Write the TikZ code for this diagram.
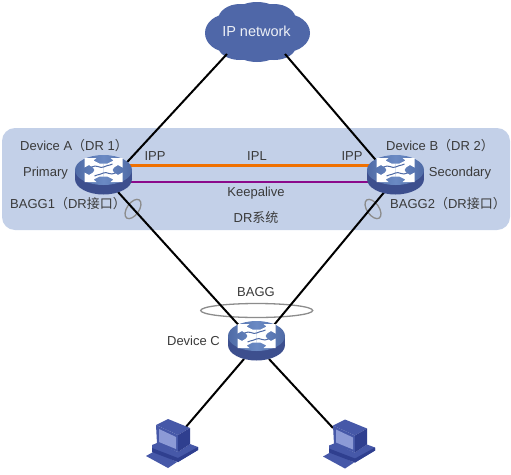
\documentclass[tikz,border=0pt]{standalone}
\usepackage{fontspec}
\setmainfont{Liberation Sans}
\newfontfamily\cjk{Noto Sans CJK SC}
\definecolor{panelc}{HTML}{C3D0E8}
\definecolor{cloudc}{HTML}{4F67A8}
\definecolor{swtop}{HTML}{6A8AC4}
\definecolor{swedge}{HTML}{4F6BA6}
\definecolor{swside}{HTML}{3D4F8E}
\definecolor{txt}{HTML}{3A3A3A}
\definecolor{orangel}{HTML}{F07000}
\definecolor{purplel}{HTML}{8B0A8B}
\definecolor{pcdark}{HTML}{2F3F8F}
\definecolor{pcmid}{HTML}{4658A8}
\definecolor{pclight}{HTML}{8C9AD6}
\tikzset{
 x=1pt,y=-1pt,
 lab/.style={font=\fontsize{13}{15}\selectfont,text=txt,inner sep=0pt},
 anchorbox/.style={inner sep=0pt,outer sep=0pt,minimum width=#1},
 wire/.style={line width=2pt,black},
 loopring/.style={draw=black!45,line width=1.3pt},
 switchicon/.pic={
  \fill[swside] (-28.5,0) rectangle (28.5,9);
  \fill[swside] (0,9) ellipse [x radius=28.5,y radius=15.5];
  \shade[left color=swedge,right color=swedge,middle color=swtop] (0,0) ellipse [x radius=28.5,y radius=15];
  \foreach \sx/\sy in {1/1,-1/1,1/-1,-1/-1}{
   \begin{scope}[xscale=\sx,yscale=\sy]
    \fill[white] (19,-12) -- (7,-12) -- (10,-9.5) -- (4,-6.5) -- (0,-6.5) -- (0,0) -- (9,0) -- (10.5,-2.5) -- (14.5,-5) -- (19,-2.5) -- cycle;
   \end{scope}
  }
  \draw[swedge,line width=1pt] (-12,-3) .. controls (-7,-6) and (-3,-1) .. (0,-3) .. controls (3,-5) and (5,-4) .. (9,-6);
  \draw[swedge,line width=1pt] (-9,6) .. controls (-5,4) and (-3,5) .. (0,3) .. controls (3,1) and (7,6) .. (12,3);
 },
 pcicon/.pic={
  \fill[pcmid] (1,41) -- (10,36) -- (32,47) -- (23,53) -- cycle;
  \fill[pcmid] (7,30) -- (12,28) -- (33,37) -- (45,29) -- (53,32) -- (53,35) -- (33,47) -- (7,37) -- cycle;
  \fill[pcdark] (7,33) -- (33,43) -- (33,47) -- (7,37) -- cycle;
  \fill[pcdark] (33,43) -- (53,32) -- (53,35) -- (33,47) -- cycle;
  \fill[pcmid] (11,10) -- (23,4) -- (45,13) -- (33,20) -- cycle;
  \fill[pcmid] (11,10) -- (33,20) -- (33,37) -- (12,29) -- cycle;
  \fill[pclight] (14,14) -- (31,22) -- (31,34) -- (14,27) -- cycle;
  \fill[pcdark] (33,20) -- (45,13) -- (45,29) -- (33,37) -- cycle;
 }
}
\begin{document}
\begin{tikzpicture}
\useasboundingbox (0,0) rectangle (511,474);
\fill[white] (0,0) rectangle (511,474);
\fill[panelc,rounded corners=13pt] (2,128) rectangle (510,230);
% cloud
\fill[cloudc] (257,32) ellipse [x radius=35,y radius=30]
 (228,33) ellipse [x radius=23,y radius=19]
 (286,33) ellipse [x radius=24,y radius=19]
 (240,20) ellipse [x radius=22,y radius=16]
 (274,20) ellipse [x radius=22,y radius=16]
 (240,46) ellipse [x radius=22,y radius=14]
 (274,46) ellipse [x radius=22,y radius=14];
% anchor nodes
\node[anchorbox=58,minimum height=46] (cloud) at (256,31) {};
\node[anchorbox=29,minimum height=20] (A) at (103.5,182) {};
\node[anchorbox=19,minimum height=18] (B) at (395.5,181) {};
\node[anchorbox=25,minimum height=28] (C) at (256.5,345) {};
\node[anchorbox=42,minimum height=30] (P1) at (164,443) {};
\node[anchorbox=42,minimum height=30] (P2) at (354,443) {};
% rings
\draw[loopring] (133,209) ellipse [x radius=11,y radius=6,rotate=55];
\draw[loopring] (373,209) ellipse [x radius=11,y radius=6,rotate=-55];
\draw[loopring] (256.7,310.5) ellipse [x radius=56,y radius=7];
% connectors
\draw[wire] (cloud.south west) -- (A.north east);
\draw[wire] (cloud.south east) -- (B.north west);
\draw[wire] (A.south east) -- (C.north west);
\draw[wire] (B.south west) -- (C.north east);
\draw[wire] (C.south west) -- (P1.north east);
\draw[wire] (C.south east) -- (P2.north west);
\draw[orangel,line width=3pt] ([yshift=7pt]A.north east) -- ([yshift=7pt]A.north east -| B.north west);
\draw[purplel,line width=2.4pt] (A.east) -- (A.east -| B.west);
% devices
\pic at (103.5,170) {switchicon};
\pic at (395.5,170) {switchicon};
\pic at (256.5,336) {switchicon};
\pic at (145,415) {pcicon};
\pic at (322,415.5) {pcicon};
% labels
\node[font=\fontsize{14.5}{16}\selectfont,text=white!90!cloudc,inner sep=0pt] (tcloud) at (256.5,31) {IP network};
\node[lab] (ta) at (74,146) {Device A{\cjk（}DR 1{\cjk）}};
\node[lab] (tb) at (440,146) {Device B{\cjk（}DR 2{\cjk）}};
\node[lab] (tp) at (45.5,173) {Primary};
\node[lab] (ts) at (460,173) {Secondary};
\node[lab] (tb1) at (68,204) {BAGG1{\cjk（}DR{\cjk 接口}{\cjk）}};
\node[lab] (tb2) at (448,204) {BAGG2{\cjk（}DR{\cjk 接口}{\cjk）}};
\node[lab] (ti1) at (155,156) {IPP};
\node[lab] (ti2) at (352,156) {IPP};
\node[lab] (til) at (257,156) {IPL};
\node[lab] (tk) at (256,193) {Keepalive};
\node[lab] (tdr) at (256,218) {DR{\cjk 系统}};
\node[lab] (tbg) at (256,292) {BAGG};
\node[lab] (tc) at (193.5,341) {Device C};
\end{tikzpicture}
\end{document}
